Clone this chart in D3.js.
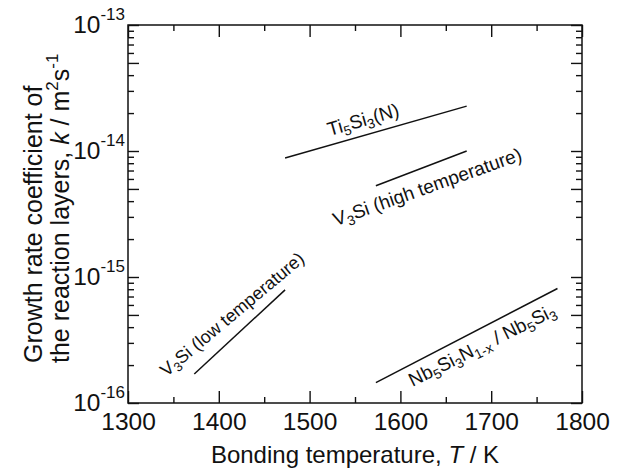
<!DOCTYPE html>
<html>
<head>
<meta charset="utf-8">
<script src="https://cdn.jsdelivr.net/npm/d3@7"></script>
<style>
  html, body { margin: 0; padding: 0; background: #fff; }
  svg { display: block; font-family: "Liberation Sans", Arial, sans-serif; }
</style>
</head>
<body>
<svg id="chart" width="617" height="472"></svg>
<script>
// Axis ticks
const xMajorTicks = [1300, 1400, 1500, 1600, 1700, 1800];
const xMinorTicks = [1350, 1450, 1550, 1650, 1750];
const yDecadeExponents = [-16, -15, -14, -13];

// Growth rate coefficient k (m^2/s) against bonding temperature T (K)
const ti5si3Temp = [1473, 1673];
const ti5si3K = [8.8e-15, 2.27e-14];

const v3siHighTemp = [1573, 1673];
const v3siHighK = [5.3e-15, 1.0e-14];

const v3siLowTemp = [1373, 1473];
const v3siLowK = [1.7e-16, 7.9e-16];

const nbTemp = [1573, 1773];
const nbK = [1.45e-16, 8.1e-16];

// Layer names, written as [text, subscript?] runs
const labelTi = [["Ti", false], ["5", true], ["Si", false], ["3", true], ["(N)", false]];
const labelV3High = [["V", false], ["3", true], ["Si (high temperature)", false]];
const labelV3Low = [["V", false], ["3", true], ["Si (low temperature)", false]];
const labelNb = [["Nb", false], ["5", true], ["Si", false], ["3", true], ["N", false], ["1-x", true],
                 [" / Nb", false], ["5", true], ["Si", false], ["3", true]];

const svg = d3.select("#chart");
const ink = "#111";

const plot = { left: 128, right: 582, top: 25, bottom: 403 };

const x = d3.scaleLinear().domain([1300, 1800]).range([plot.left, plot.right]);
const y = d3.scaleLog().domain([1e-16, 1e-13]).range([plot.bottom, plot.top]);

// Minor log ticks: 2..9 within each decade; 5x ticks drawn longer
const yLong = [], yShort = [];
yDecadeExponents.forEach(e => {
  yLong.push(Math.pow(10, e));
  if (e < -13) {
    for (let m = 2; m <= 9; m++) {
      const v = m * Math.pow(10, e);
      (m === 5 ? yLong : yShort).push(v);
    }
  }
});

function styleAxis(g) {
  g.select(".domain").remove();
  g.selectAll("line").attr("stroke", ink).attr("stroke-width", 1.4);
}

// bottom / top x ticks (inward)
svg.append("g").attr("transform", `translate(0,${plot.bottom})`)
  .call(d3.axisBottom(x).tickValues(xMajorTicks).tickSize(-12).tickPadding(10).tickFormat(d3.format("d")))
  .call(styleAxis)
  .call(g => g.selectAll("text").attr("fill", ink).style("font-size", "24.5px")
    .style("font-family", '"Liberation Sans", Arial, sans-serif'));
svg.append("g").attr("transform", `translate(0,${plot.bottom})`)
  .call(d3.axisBottom(x).tickValues(xMinorTicks).tickSize(-6).tickFormat(""))
  .call(styleAxis);
svg.append("g").attr("transform", `translate(0,${plot.top})`)
  .call(d3.axisTop(x).tickValues(xMajorTicks).tickSize(-12).tickFormat(""))
  .call(styleAxis);
svg.append("g").attr("transform", `translate(0,${plot.top})`)
  .call(d3.axisTop(x).tickValues(xMinorTicks).tickSize(-6).tickFormat(""))
  .call(styleAxis);

// left / right y ticks (inward)
[[d3.axisLeft, plot.left], [d3.axisRight, plot.right]].forEach(([axisFn, pos]) => {
  svg.append("g").attr("transform", `translate(${pos},0)`)
    .call(axisFn(y).tickValues(yLong).tickSize(-11).tickFormat(""))
    .call(styleAxis);
  svg.append("g").attr("transform", `translate(${pos},0)`)
    .call(axisFn(y).tickValues(yShort).tickSize(-6).tickFormat(""))
    .call(styleAxis);
});

// y tick labels: 10^n
yDecadeExponents.forEach(e => {
  const t = svg.append("text")
    .attr("x", plot.left - 3)
    .attr("y", y(Math.pow(10, e)) + 7.5)
    .attr("text-anchor", "end")
    .attr("fill", ink)
    .style("font-size", "24.5px");
  t.append("tspan").text("10");
  t.append("tspan").attr("dy", -12.5).style("font-size", "17px").text(String(e));
});

// frame
svg.append("rect")
  .attr("x", plot.left).attr("y", plot.top)
  .attr("width", plot.right - plot.left).attr("height", plot.bottom - plot.top)
  .attr("fill", "none").attr("stroke", ink).attr("stroke-width", 1.5);

// curves
const line = d3.line().x(d => x(d[0])).y(d => y(d[1]));
[[ti5si3Temp, ti5si3K], [v3siHighTemp, v3siHighK], [v3siLowTemp, v3siLowK], [nbTemp, nbK]]
  .forEach(([ts, ks]) => {
    svg.append("path")
      .attr("d", line(d3.zip(ts, ks)))
      .attr("fill", "none").attr("stroke", ink).attr("stroke-width", 1.5);
  });

// curve labels: centre (T, k) and rotation
const labelLayout = [
  { runs: labelTi, at: [1561, 1.58e-14], angle: -16, size: 19 },
  { runs: labelV3High, at: [1632, 4.64e-15], angle: -19.5, size: 19 },
  { runs: labelV3Low, at: [1419, 4.64e-16], angle: -40, size: 18 },
  { runs: labelNb, at: [1693, 2.59e-16], angle: -26.5, size: 19 }
];

labelLayout.forEach(l => {
  const g = svg.append("g")
    .attr("transform", `translate(${x(l.at[0])},${y(l.at[1])}) rotate(${l.angle})`);
  const t = g.append("text").attr("text-anchor", "middle").attr("fill", ink)
    .style("font-size", l.size + "px");
  const shift = l.size * 0.22;
  let down = false;
  l.runs.forEach(([s, sub]) => {
    const ts = t.append("tspan").text(s);
    if (sub && !down) { ts.attr("dy", shift); down = true; }
    else if (!sub && down) { ts.attr("dy", -shift); down = false; }
    if (sub) ts.style("font-size", (l.size * 0.72) + "px");
  });
});

// x axis title
const xt = svg.append("text")
  .attr("x", (plot.left + plot.right) / 2).attr("y", 463)
  .attr("text-anchor", "middle").attr("fill", ink).style("font-size", "24px");
xt.append("tspan").text("Bonding temperature, ");
xt.append("tspan").style("font-style", "italic").text("T");
xt.append("tspan").text(" / K");

// y axis title (two lines)
svg.append("text")
  .attr("transform", "translate(41.5,363) rotate(-90)")
  .attr("fill", ink).style("font-size", "25px")
  .text("Growth rate coefficient of");
const yt2 = svg.append("text")
  .attr("transform", "translate(68.5,363) rotate(-90)")
  .attr("fill", ink).style("font-size", "25px");
yt2.append("tspan").text("the reaction layers, ");
yt2.append("tspan").style("font-style", "italic").text("k");
yt2.append("tspan").text(" / m");
yt2.append("tspan").attr("dy", -11).style("font-size", "17px").text("2");
yt2.append("tspan").attr("dy", 11).text("s");
yt2.append("tspan").attr("dy", -11).style("font-size", "17px").text("-1");
</script>
</body>
</html>
